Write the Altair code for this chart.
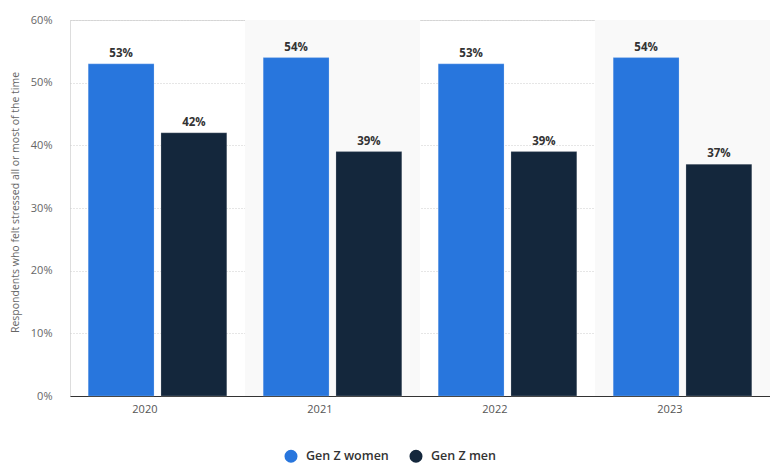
import altair as alt
import pandas as pd

years = ["2020", "2021", "2022", "2023"]
women = [53, 54, 53, 54]
men = [42, 39, 39, 37]
series = ["Gen Z women", "Gen Z men"]
shaded_years = ["2021", "2023"]

rows = []
for i, y in enumerate(years):
    rows.append({"year": y, "group": series[0], "value": women[i], "label": f"{women[i]}%"})
    rows.append({"year": y, "group": series[1], "value": men[i], "label": f"{men[i]}%"})
df = pd.DataFrame(rows)
bg = pd.DataFrame({"year": shaded_years})

FONT = "Open Sans"
W, H = 700, 376

xscale = alt.Scale(domain=years, paddingInner=0, paddingOuter=0)
yscale = alt.Scale(domain=[0, 60])
offscale = alt.Scale(domain=series, paddingInner=0.095, paddingOuter=0.25)

background = alt.Chart(bg).mark_bar(color="#f9f9f9", width={"band": 1}).encode(
    x=alt.X("year:N", scale=xscale, sort=years),
    y=alt.value(0),
    y2=alt.value(H),
)

bars = alt.Chart(df).mark_bar(stroke="#ffffff", strokeWidth=0.5, strokeOpacity=0.4).encode(
    x=alt.X("year:N", scale=xscale, sort=years,
            axis=alt.Axis(title=None, labelAngle=0, labelFont=FONT, labelFontSize=11,
                          labelColor="#555555", labelPadding=13, ticks=False,
                          domainColor="#333333", domainWidth=1, grid=False)),
    xOffset=alt.XOffset("group:N", sort=series, scale=offscale),
    y=alt.Y("value:Q", scale=yscale,
            axis=alt.Axis(title="Respondents who felt stressed all or most of the time",
                          titleFont=FONT, titleFontSize=10.5, titleFontWeight="normal",
                          titleColor="#666666", titlePadding=10, titleY=182,
                          labelFont=FONT, labelFontSize=11, labelColor="#666666",
                          labelPadding=18, ticks=False, domain=False,
                          values=[0, 10, 20, 30, 40, 50, 60],
                          labelExpr="datum.value + '%'",
                          grid=True, gridColor="#cccccc", gridDash=[1, 2], gridWidth=1)),
    color=alt.Color("group:N", sort=series,
                    scale=alt.Scale(domain=series, range=["#2876dd", "#14273c"]),
                    legend=alt.Legend(title=None, orient="none", direction="horizontal",
                                      legendX=214, legendY=429,
                                      symbolType="circle", symbolSize=170, symbolStrokeWidth=0,
                                      labelFont=FONT, labelFontSize=12.5, labelFontWeight=600,
                                      labelColor="#333333", columnPadding=20, labelOffset=8,
                                      symbolOpacity=1)),
)

labels = alt.Chart(df).mark_text(font=FONT, fontSize=11.5, fontWeight="bold", color="#333333",
                                 baseline="bottom", dy=-5).encode(
    x=alt.X("year:N", scale=xscale, sort=years),
    xOffset=alt.XOffset("group:N", sort=series, scale=offscale),
    y=alt.Y("value:Q", scale=yscale),
    text="label:N",
)

chart = alt.layer(background, bars, labels).properties(
    width=W, height=H,
    autosize=alt.AutoSizeParams(type="none"),
    padding={"left": 70, "top": 20, "right": 0, "bottom": 73},
).configure_view(stroke=None).configure(background="white")

chart.save("out.html", embed_options={"renderer": "svg", "actions": False})
